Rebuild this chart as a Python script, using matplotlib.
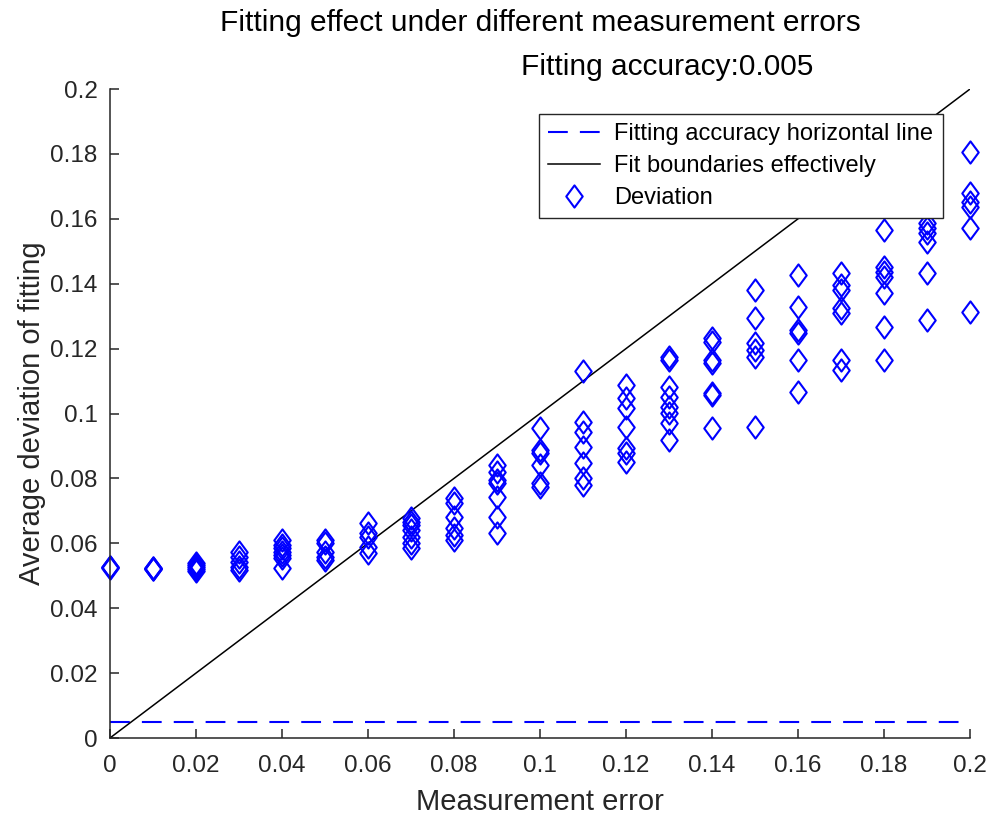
import matplotlib
matplotlib.use("Agg")
import matplotlib.pyplot as plt
import numpy as np
from matplotlib.path import Path

plt.rcParams["font.family"] = ["Liberation Sans", "DejaVu Sans"]

error_levels = [0.00, 0.01, 0.02, 0.03, 0.04, 0.05, 0.06, 0.07, 0.08, 0.09, 0.10,
                0.11, 0.12, 0.13, 0.14, 0.15, 0.16, 0.17, 0.18, 0.19, 0.20]
deviations = [
    [0.0527, 0.0525, 0.0528],
    [0.0522, 0.0525, 0.0520, 0.0523],
    [0.0540, 0.0533, 0.0527, 0.0520, 0.0514],
    [0.0573, 0.0558, 0.0542, 0.0527, 0.0518],
    [0.0610, 0.0595, 0.0586, 0.0573, 0.0564, 0.0555, 0.0524],
    [0.0610, 0.0600, 0.0573, 0.0558, 0.0548],
    [0.0663, 0.0632, 0.0619, 0.0589, 0.0570],
    [0.0678, 0.0665, 0.0656, 0.0641, 0.0619, 0.0601, 0.0585],
    [0.0740, 0.0724, 0.0680, 0.0647, 0.0626, 0.0610],
    [0.0841, 0.0820, 0.0795, 0.0786, 0.0743, 0.0681, 0.0632],
    [0.0955, 0.0888, 0.0878, 0.0841, 0.0786, 0.0773],
    [0.1130, 0.0974, 0.0943, 0.0897, 0.0847, 0.0801, 0.0780],
    [0.1088, 0.1048, 0.1017, 0.0958, 0.0894, 0.0878, 0.0851],
    [0.1174, 0.1165, 0.1082, 0.1051, 0.1020, 0.1002, 0.0971, 0.0918],
    [0.1233, 0.1220, 0.1165, 0.1156, 0.1063, 0.1057, 0.0955],
    [0.1380, 0.1294, 0.1217, 0.1196, 0.1174, 0.0958],
    [0.1427, 0.1328, 0.1257, 0.1248, 0.1165, 0.1066],
    [0.1433, 0.1396, 0.1380, 0.1325, 0.1310, 0.1165, 0.1134],
    [0.1566, 0.1451, 0.1436, 0.1420, 0.1371, 0.1267, 0.1165],
    [0.1587, 0.1572, 0.1556, 0.1529, 0.1433, 0.1288],
    [0.1806, 0.1680, 0.1652, 0.1636, 0.1572, 0.1313],
]
accuracy = 0.005
boundary_x = [0.0, 0.2]
ticks = [0, 0.02, 0.04, 0.06, 0.08, 0.1, 0.12, 0.14, 0.16, 0.18, 0.2]
tick_labels = ["0", "0.02", "0.04", "0.06", "0.08", "0.1", "0.12", "0.14", "0.16", "0.18", "0.2"]

xs = np.concatenate([[e] * len(d) for e, d in zip(error_levels, deviations)])
ys = np.concatenate(deviations)

# MATLAB-style diamond (slightly taller than wide)
diamond = Path([(0, 1), (0.74, 0), (0, -1), (-0.74, 0), (0, 1)],
               [Path.MOVETO, Path.LINETO, Path.LINETO, Path.LINETO, Path.CLOSEPOLY])

fig = plt.figure(figsize=(9.87, 8.19), dpi=100)
ax = fig.add_axes([0.1114, 0.0989, 0.8714, 0.7924])

ax.plot(boundary_x, [accuracy, accuracy], color="blue", lw=1.5, dashes=(9.5, 5.8),
        label="Fitting accuracy horizontal line")
ax.plot(boundary_x, boundary_x, color="black", lw=1.1, label="Fit boundaries effectively")
ax.plot(xs, ys, linestyle="none", marker=diamond, ms=16, mfc="none", mec="blue",
        mew=1.5, clip_on=False, label="Deviation")

ax.set_xlim(0, 0.2)
ax.set_ylim(0, 0.2)
ax.set_xticks(ticks)
ax.set_xticklabels(tick_labels)
ax.set_yticks(ticks)
ax.set_yticklabels(tick_labels)
for s in ("top", "right"):
    ax.spines[s].set_visible(False)
for s in ("left", "bottom"):
    ax.spines[s].set_color("#262626")
    ax.spines[s].set_linewidth(1.1)
ax.tick_params(direction="in", length=6.5, width=1.1, colors="#262626",
               labelsize=17.5, pad=9)
ax.tick_params(axis="x", pad=12)

ax.set_xlabel("Measurement error", fontsize=21, color="#262626", labelpad=8)
ax.set_ylabel("Average deviation of fitting", fontsize=21, color="#262626", labelpad=3)

fig.text(0.547, 0.972, "Fitting effect under different measurement errors",
         ha="center", va="center", fontsize=21.5, color="black")
fig.text(0.676, 0.918, "Fitting accuracy:0.005",
         ha="center", va="center", fontsize=21.5, color="black")

leg = ax.legend(loc="upper right", bbox_to_anchor=(0.968, 0.962), fontsize=17,
                fancybox=False, edgecolor="#262626", framealpha=1,
                handlelength=2.2, handletextpad=0.6, labelspacing=0.42,
                borderpad=0.4, borderaxespad=0)
leg.get_frame().set_linewidth(1.0)

fig.savefig("out.png", dpi=100)
